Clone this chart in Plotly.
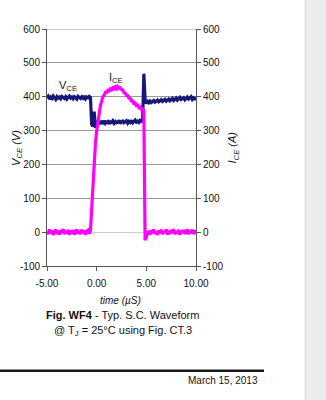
import numpy as np
import plotly.graph_objects as go

# Sample clock of the scope capture (µs), 0.125 µs per sample
time_us = np.linspace(-5.0, 10.0, 121)

# Collector-emitter voltage (V)
vce = [396, 401, 393, 399, 395, 402, 397, 392, 400, 396, 399, 394, 401, 397, 395, 400, 393, 398,
       402, 396, 399, 394, 400, 397, 393, 401, 398, 395, 400, 396, 402, 394, 399, 397, 401, 398,
       318, 312, 356, 308, 328,
       322, 328, 320, 326, 323, 329, 321, 325, 327, 320, 326, 324, 329, 322, 327, 323, 325, 330,
       321, 326, 328, 323, 325, 329, 322, 327, 324, 330, 323, 326, 331, 325, 328, 324, 330, 327, 329,
       468, 392,
       380, 386, 382, 387, 383, 385, 389, 384, 386, 390, 385, 388, 391, 386, 389, 392, 387, 390,
       393, 388, 391, 395, 389, 393, 396, 390, 394, 398, 392, 395, 397, 391, 396, 399, 393, 396,
       400, 392, 397, 394, 398]

# Collector current (A)
ice = [3, -6, 8, -4, 5, -8, 2, 7, -5, 4, -7, 6, -2, 9, -6, 3, -4, 7, -8, 5, -3, 6, -7, 2, 8, -5,
       4, -6, 7, -3, 5, -8, 3, 6, -4, 4,
       70, 160, 215, 262, 298,
       325, 350, 374, 386, 400, 404, 413, 413, 419, 417, 423, 420, 426, 423, 429, 424, 430, 425,
       426, 421, 420, 412, 411, 404, 403, 396, 395, 388, 388, 380, 381, 374, 375, 368, 370, 363, 364,
       358, -24,
       -14, -6, 4, -7, 6, -3, 8, -5, 2, -8, 5, -4, 7, -6, 3, -2, 8, -7, 4, -5, 6, -3, 9, -6, 2,
       -4, 7, -8, 5, -2, 6, -5, 3, 8, -6, 4, -3, 7, -5, 2, 5]

x_ticks = [-5, 0, 5, 10]
x_tick_labels = ["-5.00", "0.00", "5.00", "10.00"]
y_ticks = [-100, 0, 100, 200, 300, 400, 500, 600]
y_tick_labels = [str(v) for v in y_ticks]

FONT = "Arial, Liberation Sans, sans-serif"
NAVY = "#17177a"
MAGENTA = "#ff00ff"

fig = go.Figure()
fig.add_trace(go.Scatter(x=time_us, y=vce, mode="lines", name="VCE",
                         line=dict(color=NAVY, width=3.2)))
fig.add_trace(go.Scatter(x=time_us, y=ice, mode="lines", name="ICE", yaxis="y2",
                         line=dict(color=MAGENTA, width=3.2)))

axis_common = dict(range=[-100, 600], tickvals=y_ticks, ticktext=y_tick_labels,
                   ticks="outside", ticklen=4, tickcolor="#555", showline=True,
                   linecolor="#555", linewidth=1, tickfont=dict(size=10, color="#111"))

fig.update_layout(
    width=326, height=400,
    margin=dict(l=47, r=130, t=29, b=134),
    paper_bgcolor="white", plot_bgcolor="white",
    font=dict(family=FONT, color="#111", size=10),
    showlegend=False,
    xaxis=dict(range=[-5, 10], tickvals=x_ticks, ticktext=x_tick_labels,
               ticks="outside", ticklen=4, tickcolor="#555", showline=True,
               linecolor="#555", linewidth=1, showgrid=False, zeroline=False,
               tickfont=dict(size=10, color="#111"), ticklabelstandoff=4),
    yaxis=dict(showgrid=True, gridcolor="#9a9a9a", gridwidth=1,
               zeroline=True, zerolinecolor="#cccccc", zerolinewidth=1, **axis_common),
    yaxis2=dict(overlaying="y", side="right", showgrid=False, zeroline=False, **axis_common),
)

# Top gridline at 600
fig.add_shape(type="line", xref="x", yref="y", x0=-5, x1=10, y0=600, y1=600,
              line=dict(color="#9a9a9a", width=1), layer="below")

# Grey page margin at the right edge
fig.add_shape(type="rect", xref="paper", yref="paper", x0=1.7315, x1=1.95, y0=-0.7, y1=1.2,
              fillcolor="#ebebeb", line=dict(width=0), layer="below")
fig.add_shape(type="line", xref="paper", yref="paper", x0=1.7315, x1=1.7315, y0=-0.7, y1=1.2,
              line=dict(color="#dddddd", width=1), layer="below")

# Footer rule
fig.add_shape(type="line", xref="paper", yref="paper", x0=-0.32, x1=1.4564, y0=-0.4425, y1=-0.4425,
              line=dict(color="#1a1a1a", width=2.5))

ann = [
    dict(x=-2.9, y=431, xref="x", yref="y", text="V<sub>CE</sub>", font=dict(size=11)),
    dict(x=1.9, y=455, xref="x", yref="y", text="I<sub>CE</sub>", font=dict(size=11)),
    dict(x=-0.205, y=0.50, xref="paper", yref="paper", text="<i>V<sub>CE</sub> (V)</i>",
         textangle=-90, font=dict(size=11)),
    dict(x=1.248, y=0.50, xref="paper", yref="paper", text="<i>I<sub>CE</sub> (A)</i>",
         textangle=-90, font=dict(size=11)),
    dict(x=0.4966, y=-0.1475, xref="paper", yref="paper", text="<i>time (µS)</i>",
         font=dict(size=10)),
    dict(x=0.5067, y=-0.2065, xref="paper", yref="paper",
         text="<b>Fig. WF4</b> - Typ. S.C. Waveform", font=dict(size=11)),
    dict(x=0.51, y=-0.2727, xref="paper", yref="paper",
         text="@ T<sub>J</sub> = 25°C using Fig. CT.3", font=dict(size=11)),
    dict(x=1.4295, y=-0.4846, xref="paper", yref="paper", xanchor="right",
         text="March 15, 2013", font=dict(size=10)),
]
for a in ann:
    a.setdefault("xanchor", "center")
    a.setdefault("yanchor", "middle")
    a["showarrow"] = False
    fig.add_annotation(**a)

fig.write_html("out.html")
